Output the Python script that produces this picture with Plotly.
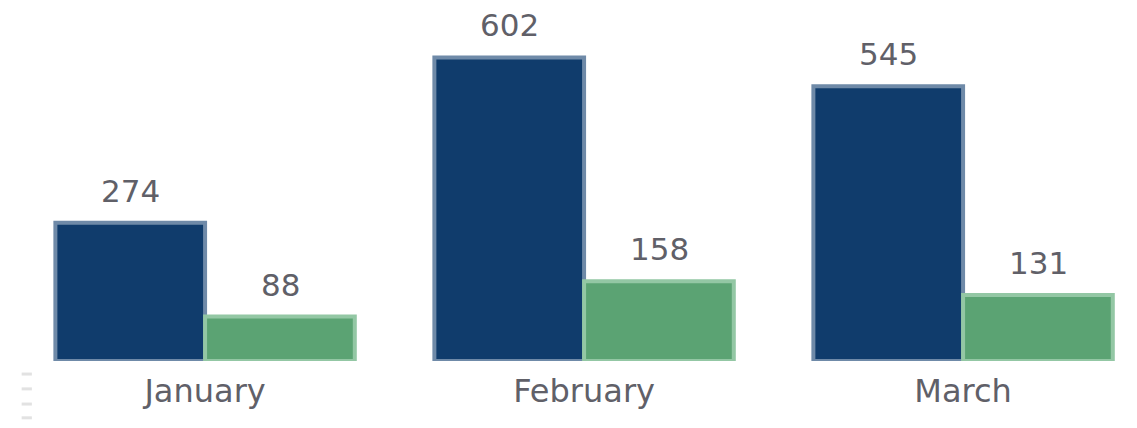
import plotly.graph_objects as go

months = ["January", "February", "March"]
series_a = [274, 602, 545]
series_b = [88, 158, 131]

navy = "#103c6c"
navy_line = "#6f8aa8"
green = "#5ba373"
green_line = "#93c7a4"
text_color = "#606068"
font_family = "DejaVu Sans"

fig = go.Figure()
fig.add_trace(go.Bar(x=months, y=series_a, marker=dict(color=navy, line=dict(color=navy_line, width=4)),
                     showlegend=False, hoverinfo="skip"))
fig.add_trace(go.Bar(x=months, y=series_b, marker=dict(color=green, line=dict(color=green_line, width=4)),
                     showlegend=False, hoverinfo="skip"))

# value labels above bars
for trace_idx, vals in enumerate([series_a, series_b]):
    for i, (m, v) in enumerate(zip(months, vals)):
        fig.add_annotation(x=i, y=v, xref="x", yref="y", text=str(v), showarrow=False,
                           xshift=(-75 if trace_idx == 0 else 75), yshift=32, borderpad=0,
                           font=dict(family=font_family, size=31, color=text_color))

# faint dotted marks at lower left
for yy in [-0.037, -0.079, -0.122, -0.161]:
    fig.add_shape(type="line", xref="paper", yref="paper", x0=0.012, x1=0.021, y0=yy, y1=yy,
                  line=dict(color="#e2e2e2", width=3))

fig.update_layout(
    width=1137, height=428,
    margin=dict(l=0, r=0, t=0, b=75),
    paper_bgcolor="white", plot_bgcolor="white",
    barmode="group", bargap=0.21, bargroupgap=0,
    xaxis=dict(type="category", range=[-0.52, 2.48], showgrid=False, zeroline=False, showline=False,
               ticks="", tickfont=dict(family=font_family, size=32, color=text_color), ticklabelstandoff=8),
    yaxis=dict(range=[0, 700], visible=False),
)

fig.write_html("out.html")
